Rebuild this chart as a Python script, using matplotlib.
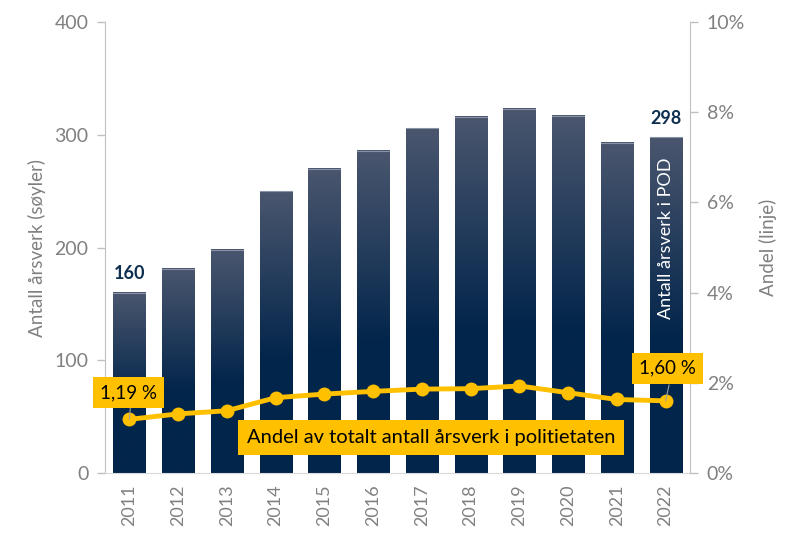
import matplotlib
matplotlib.use("Agg")
import matplotlib.pyplot as plt
import numpy as np
from matplotlib.colors import LinearSegmentedColormap

years = ["2011", "2012", "2013", "2014", "2015", "2016", "2017", "2018", "2019", "2020", "2021", "2022"]
arsverk = [160, 181, 198, 250, 270, 286, 306, 316, 323, 317, 293, 298]
andel = [1.19, 1.31, 1.38, 1.67, 1.75, 1.81, 1.86, 1.87, 1.93, 1.78, 1.63, 1.60]
left_ticks = [0, 100, 200, 300, 400]
right_ticks = [0, 2, 4, 6, 8, 10]

plt.rcParams['font.family'] = ['Lato', 'DejaVu Sans']
GREY = '#808080'
NAVY_TOP = '#4A566E'
NAVY_BOT = '#02254B'
GOLD = '#FFC000'

fig = plt.figure(figsize=(8, 5.41), dpi=100)
ax = fig.add_axes([0.13125, 0.1257, 0.73125, 0.8336])
ax2 = ax.twinx()

x = np.arange(len(years))
w = 0.66
cmap = LinearSegmentedColormap.from_list('g', [NAVY_TOP, NAVY_BOT])
grad = np.clip(np.linspace(0, 1, 256) / 0.6, 0, 1)[:, None]
bars = ax.bar(x, arsverk, width=w, color='none', edgecolor='none', zorder=2)
for b in bars:
    x0, h = b.get_x(), b.get_height()
    ax.imshow(grad, cmap=cmap, vmin=0, vmax=1, aspect='auto',
              extent=[x0, x0 + w, 0, h], origin='upper', zorder=2)
    ax.plot([x0, x0 + w], [h, h], color='#8a93a5', lw=0.8, zorder=3)

ax.set_xlim(-0.5, len(years) - 0.5)
ax.set_ylim(0, 400)
ax.set_yticks(left_ticks)
ax.set_xticks(x)
ax.set_xticklabels(years, rotation=90, color=GREY, fontsize=13)
ax.tick_params(axis='x', length=0, pad=8)
ax.tick_params(axis='y', colors='#c0c0c0', labelcolor=GREY, labelsize=14, length=6, width=1, pad=6)
ax.set_ylabel('Antall årsverk (søyler)', color=GREY, fontsize=13.5, labelpad=6)

for s in ['top']:
    ax.spines[s].set_visible(False)
    ax2.spines[s].set_visible(False)
ax.spines['left'].set_color('#c0c0c0')
ax.spines['bottom'].set_color('#d9d9d9')
ax.spines['right'].set_visible(False)
ax2.spines['left'].set_visible(False)
ax2.spines['bottom'].set_visible(False)
ax2.spines['right'].set_color('#c0c0c0')

# value labels
for i in [0, len(years) - 1]:
    ax.text(x[i], arsverk[i] + 9, f"{arsverk[i]}", ha='center', va='bottom',
            fontsize=13, fontweight='bold', color='#0E2F50', zorder=5)

ax.text(x[-1], 208, 'Antall årsverk i POD', rotation=90, ha='center', va='center',
        color='white', fontsize=13, zorder=5)

# line
ax2.plot(x, andel, color=GOLD, lw=3.5, marker='o', markersize=9, zorder=4)
ax2.set_ylim(0, 10)
ax2.set_yticks(right_ticks)
ax2.set_yticklabels([f"{t}%" for t in right_ticks])
ax2.tick_params(axis='y', colors='#c0c0c0', labelcolor=GREY, labelsize=14, length=6, width=1, pad=6)
ax2.set_ylabel('Andel (linje)', color=GREY, fontsize=13.5, labelpad=10)
ax2.set_xlim(-0.5, len(years) - 0.5)

def fmt(v):
    return f"{v:.2f}".replace('.', ',') + " %"

# point labels with leader lines
ax2.plot([x[0], x[0] + 0.02], [andel[0], 1.45], color='#a0a0a0', lw=0.8, zorder=5)
ax2.text(x[0] - 0.02, 1.78, fmt(andel[0]), ha='center', va='center', fontsize=13.5,
         color='black', zorder=6,
         bbox=dict(boxstyle='square,pad=0.38', fc=GOLD, ec='none'))
ax2.plot([x[-1], x[-1] + 0.07], [andel[-1], 1.95], color='#a0a0a0', lw=0.8, zorder=5)
ax2.text(x[-1] + 0.03, 2.32, fmt(andel[-1]), ha='center', va='center', fontsize=13.5,
         color='black', zorder=6,
         bbox=dict(boxstyle='square,pad=0.38', fc=GOLD, ec='none'))

ax2.text(6.19, 0.79, 'Andel av totalt antall årsverk i politietaten', ha='center', va='center',
         fontsize=14.5, color='black', zorder=6,
         bbox=dict(boxstyle='square,pad=0.45', fc=GOLD, ec='none'))

fig.savefig('out.png', dpi=100)
